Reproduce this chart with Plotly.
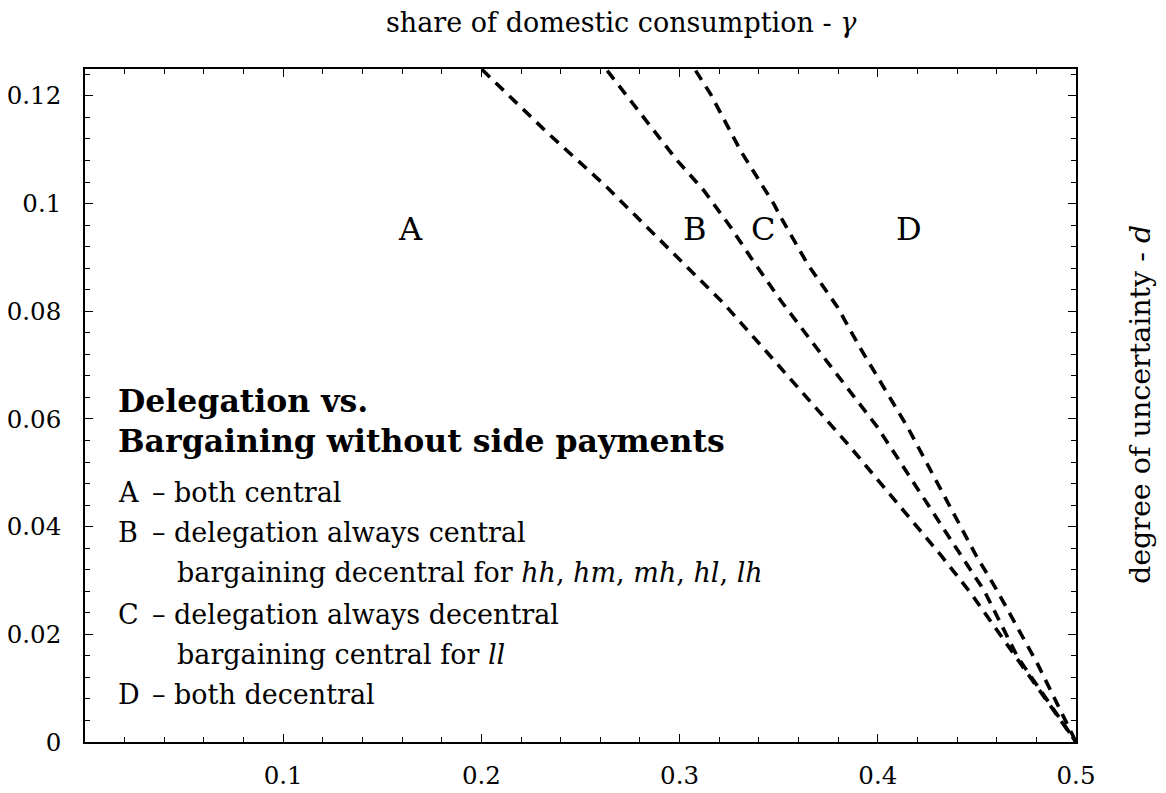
import plotly.graph_objects as go

# ---- data ----
gamma_1 = [0.2003, 0.2332, 0.2626, 0.2727, 0.3224, 0.3426, 0.3847, 0.4318, 0.4470, 0.5]
d_1 = [0.1249, 0.1132, 0.1033, 0.0996, 0.0814, 0.0730, 0.0554, 0.0347, 0.0276, 0.0]

gamma_2 = [0.2635, 0.2794, 0.2988, 0.3123, 0.3258, 0.3359, 0.3510, 0.3695, 0.3998, 0.4419, 0.4537, 0.4705, 0.5]
d_2 = [0.1247, 0.1172, 0.1080, 0.1024, 0.0956, 0.0900, 0.0820, 0.0730, 0.0585, 0.0347, 0.0281, 0.0158, 0.0]

gamma_3 = [0.3081, 0.3157, 0.3308, 0.3476, 0.3510, 0.3645, 0.3796, 0.3914, 0.4150, 0.4495, 0.4596, 0.4806, 0.5]
d_3 = [0.1247, 0.1203, 0.1098, 0.0999, 0.0975, 0.0888, 0.0808, 0.0730, 0.0585, 0.0347, 0.0285, 0.0145, 0.0]

region_labels = ["A", "B", "C", "D"]
region_gamma = [0.164, 0.308, 0.342, 0.4157]
region_d = [0.0952, 0.0952, 0.0952, 0.0952]

x_tickvals = [0.1, 0.2, 0.3, 0.4, 0.5]
x_ticktext = ["0.1", "0.2", "0.3", "0.4", "0.5"]
y_tickvals = [0, 0.02, 0.04, 0.06, 0.08, 0.1, 0.12]
y_ticktext = ["0", "0.02", "0.04", "0.06", "0.08", "0.1", "0.12"]

legend_header = ["Delegation vs.", "Bargaining without side payments"]
legend_letters = ["A", "B", "", "C", "", "D"]
legend_texts = [
    "– both central",
    "– delegation always central",
    "bargaining decentral for <i>hh</i>, <i>hm</i>, <i>mh</i>, <i>hl</i>, <i>lh</i>",
    "– delegation always decentral",
    "bargaining central for <i>ll</i>",
    "– both decentral",
]

FONT = "DejaVu Serif"
PAGE_OFF = 8                      # default body margin of the html page
W, H = 1166 - PAGE_OFF, 793 - PAGE_OFF
# plot box in page pixels
BOX_L, BOX_R, BOX_T, BOX_B = 85, 1076, 69, 742
L = BOX_L - PAGE_OFF
T = BOX_T - PAGE_OFF
R = (W + PAGE_OFF) - BOX_R
B = (H + PAGE_OFF) - BOX_B

fig = go.Figure()
for gx, dy in [(gamma_1, d_1), (gamma_2, d_2), (gamma_3, d_3)]:
    fig.add_trace(go.Scatter(x=gx, y=dy, mode="lines",
                             line=dict(color="black", width=3.6, dash="11px,8px"),
                             showlegend=False, hoverinfo="skip"))

def px_to_paper_x(px):
    return (px - BOX_L) / (BOX_R - BOX_L)

def px_to_paper_y(py):
    return (BOX_B - py) / (BOX_B - BOX_T)

annotations = []
for lab, gx, dy in zip(region_labels, region_gamma, region_d):
    annotations.append(dict(x=gx, y=dy, xref="x", yref="y", text=lab, showarrow=False,
                            font=dict(family=FONT, size=32, color="black"),
                            xanchor="center", yanchor="middle"))

# legend block (header lines)
header_centers = [400, 440]
for txt, cy in zip(legend_header, header_centers):
    annotations.append(dict(x=px_to_paper_x(116), y=px_to_paper_y(cy), xref="paper", yref="paper",
                            text="<b>" + txt + "</b>", showarrow=False,
                            font=dict(family=FONT, size=31.5, color="black"),
                            xanchor="left", yanchor="middle"))

item_centers = [492, 532, 572, 614, 654, 694]
for letter, txt, cy in zip(legend_letters, legend_texts, item_centers):
    if letter:
        annotations.append(dict(x=px_to_paper_x(116), y=px_to_paper_y(cy), xref="paper", yref="paper",
                                text=letter, showarrow=False,
                                font=dict(family=FONT, size=27, color="black"),
                                xanchor="left", yanchor="middle"))
        xs = 150
    else:
        xs = 175
    annotations.append(dict(x=px_to_paper_x(xs), y=px_to_paper_y(cy), xref="paper", yref="paper",
                            text=txt, showarrow=False,
                            font=dict(family=FONT, size=27, color="black"),
                            xanchor="left", yanchor="middle"))

# axis titles
annotations.append(dict(x=px_to_paper_x(621), y=px_to_paper_y(22), xref="paper", yref="paper",
                        text="share of domestic consumption - <i>γ</i>", showarrow=False,
                        font=dict(family=FONT, size=27, color="black"),
                        xanchor="center", yanchor="middle"))
annotations.append(dict(x=px_to_paper_x(1140), y=px_to_paper_y(405), xref="paper", yref="paper",
                        text="degree of uncertainty - <i>d</i>", showarrow=False, textangle=-90,
                        font=dict(family=FONT, size=28.5, color="black"),
                        xanchor="center", yanchor="middle"))

axis_common = dict(showline=True, linecolor="black", linewidth=1.6, mirror="allticks",
                   ticks="inside", tickcolor="black", tickwidth=1.4, ticklen=8,
                   showgrid=False, zeroline=False, automargin=False,
                   tickfont=dict(family=FONT, size=24.5, color="black"))

fig.update_xaxes(range=[0, 0.5], tickvals=x_tickvals, ticktext=x_ticktext,
                 ticklabelstandoff=11,
                 minor=dict(dtick=0.02, tick0=0, ticks="inside", ticklen=5, tickcolor="black",
                            tickwidth=1.2, showgrid=False),
                 **axis_common)
fig.update_yaxes(range=[0, 0.125], tickvals=y_tickvals, ticktext=y_ticktext,
                 ticklabelstandoff=17,
                 minor=dict(dtick=0.004, tick0=0, ticks="inside", ticklen=5, tickcolor="black",
                            tickwidth=1.2, showgrid=False),
                 **axis_common)

fig.update_layout(width=W, height=H, margin=dict(l=L, r=R, t=T, b=B, pad=0),
                  plot_bgcolor="white", paper_bgcolor="white",
                  annotations=annotations, showlegend=False,
                  font=dict(family=FONT, color="black"))

fig.write_html("out.html")
